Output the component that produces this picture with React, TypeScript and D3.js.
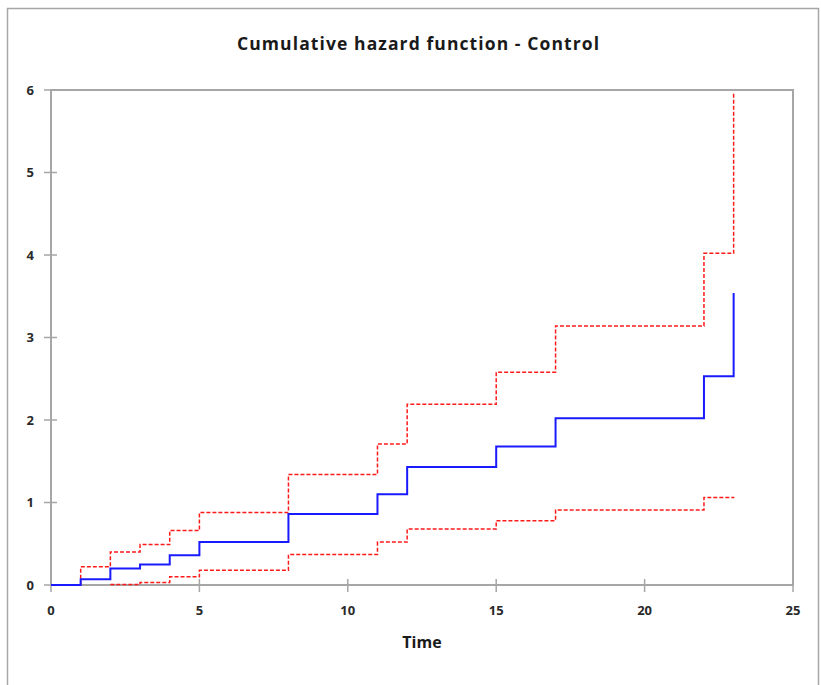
import { useEffect, useRef } from 'react';
import * as d3 from 'd3';

// step times and cumulative hazard estimates (Control)
const times = [0, 1, 2, 3, 4, 5, 8, 11, 12, 15, 17, 22, 23];
const hazard = [0, 0.07, 0.2, 0.25, 0.36, 0.52, 0.86, 1.1, 1.43, 1.68, 2.02, 2.53, 3.54];
const upper = [0, 0.22, 0.4, 0.49, 0.66, 0.88, 1.34, 1.71, 2.19, 2.58, 3.14, 4.02, 5.97];
const lowerTimes = [2, 3, 4, 5, 8, 11, 12, 15, 17, 22, 23];
const lower = [0.005, 0.03, 0.1, 0.18, 0.37, 0.52, 0.68, 0.78, 0.91, 1.06, 1.07];
const xTicks = [0, 5, 10, 15, 20, 25];
const yTicks = [0, 1, 2, 3, 4, 5, 6];

const W = 821, H = 685;
const margin = { top: 90, right: 28, bottom: 100, left: 51 };

const App = () => {
  const ref = useRef<SVGSVGElement>(null);

  useEffect(() => {
    const svg = d3.select(ref.current);
    svg.selectAll('*').remove();

    const x = d3.scaleLinear().domain([0, 25]).range([margin.left, W - margin.right]);
    const y = d3.scaleLinear().domain([0, 6]).range([H - margin.bottom, margin.top]);
    const font = 'Open Sans, sans-serif';
    const grey = '#a6a6a6';

    // outer frame
    svg.append('rect')
      .attr('x', 7.5).attr('y', 8.5).attr('width', W - 10).attr('height', H)
      .attr('fill', 'white').attr('stroke', grey).attr('stroke-width', 1.5);

    svg.append('text')
      .attr('x', 418).attr('y', 50)
      .attr('text-anchor', 'middle')
      .attr('font-family', font).attr('font-weight', 'bold').attr('font-size', 17.5)
      .attr('textLength', 362).attr('lengthAdjust', 'spacing')
      .attr('fill', '#1a1a1a')
      .text('Cumulative hazard function - Control');

    // plot border
    svg.append('rect')
      .attr('x', x(0)).attr('y', y(6))
      .attr('width', x(25) - x(0)).attr('height', y(0) - y(6))
      .attr('fill', 'none').attr('stroke', grey).attr('stroke-width', 2);

    // y ticks (crossing the axis)
    svg.append('g').selectAll('line').data(yTicks).enter().append('line')
      .attr('x1', x(0) - 7).attr('x2', d => d === 6 || d === 0 ? x(0) : x(0) + 6)
      .attr('y1', d => y(d)).attr('y2', d => y(d))
      .attr('stroke', grey).attr('stroke-width', 1.5);
    svg.append('g').selectAll('text').data(yTicks).enter().append('text')
      .attr('x', x(0) - 17).attr('y', d => y(d)).attr('dy', '0.35em')
      .attr('text-anchor', 'end')
      .attr('font-family', font).attr('font-weight', 'bold').attr('font-size', 13)
      .attr('fill', '#2a2a2a')
      .text(d => d);

    // x ticks
    svg.append('g').selectAll('line').data(xTicks).enter().append('line')
      .attr('x1', d => x(d)).attr('x2', d => x(d))
      .attr('y1', d => d === 0 || d === 25 ? y(0) : y(0) - 6).attr('y2', y(0) + 7)
      .attr('stroke', grey).attr('stroke-width', 1.5);
    svg.append('g').selectAll('text').data(xTicks).enter().append('text')
      .attr('x', d => x(d)).attr('y', y(0) + 25).attr('dy', '0.35em')
      .attr('text-anchor', 'middle')
      .attr('font-family', font).attr('font-weight', 'bold').attr('font-size', 13)
      .attr('fill', '#2a2a2a')
      .text(d => d);

    svg.append('text')
      .attr('x', x(12.5)).attr('y', 648)
      .attr('text-anchor', 'middle')
      .attr('font-family', font).attr('font-weight', 'bold').attr('font-size', 16)
      .attr('fill', '#1a1a1a')
      .text('Time');

    const line = d3.line<[number, number]>()
      .x(d => x(d[0])).y(d => y(d[1]))
      .curve(d3.curveStepAfter);

    const upperPts = times.map((t, i) => [t, upper[i]] as [number, number]);
    const lowerPts = lowerTimes.map((t, i) => [t, lower[i]] as [number, number]);
    const hazPts = times.map((t, i) => [t, hazard[i]] as [number, number]);

    [upperPts, lowerPts].forEach(pts => {
      svg.append('path')
        .attr('d', line(pts))
        .attr('fill', 'none').attr('stroke', '#ff1a1a')
        .attr('stroke-width', 1.5).attr('stroke-dasharray', '4,2');
    });

    svg.append('path')
      .attr('d', line(hazPts))
      .attr('fill', 'none').attr('stroke', '#1a1aff').attr('stroke-width', 2);
  }, []);

  return (
    <svg ref={ref} width={W} height={H}
      style={{ position: 'absolute', left: 0, top: 0, background: 'white' }} />
  );
};

export default App;
